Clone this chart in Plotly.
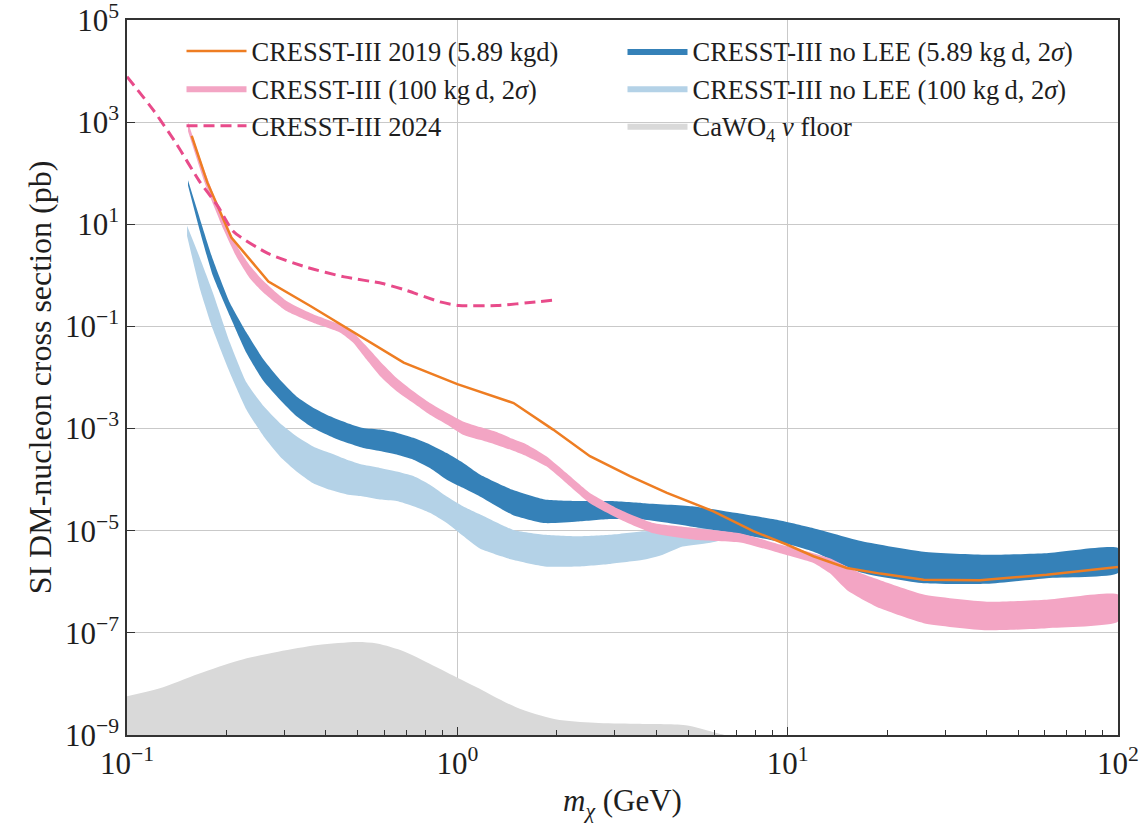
import numpy as np
import plotly.graph_objects as go

# ---- exclusion limits: dark-matter mass (GeV) vs log10 of SI cross section (pb) ----
cresst2019_mass = [0.157, 0.175, 0.207, 0.268, 0.359, 0.485, 0.688, 1.0, 1.48, 1.95,
                   2.52, 3.33, 4.31, 5.96, 7.87, 9.93, 11.97, 15.1, 19.05, 25.8,
                   38.2, 60.8, 100]
cresst2019_logxs = [2.73, 1.82, 0.74, -0.12, -0.60, -1.12, -1.71, -2.13, -2.50, -3.02,
                    -3.54, -3.93, -4.26, -4.62, -5.01, -5.27, -5.50, -5.73, -5.84, -5.96,
                    -5.97, -5.86, -5.71]

cresst2024_mass = [0.1, 0.120, 0.141, 0.165, 0.189, 0.210, 0.267, 0.349, 0.455, 0.594,
                   0.698, 0.887, 1.01, 1.32, 1.73, 2.0]
cresst2024_logxs = [3.89, 3.24, 2.58, 1.86, 1.34, 0.86, 0.43, 0.16, -0.03, -0.16,
                    -0.29, -0.52, -0.59, -0.59, -0.52, -0.48]

# ---- projected sensitivity bands (2 sigma): upper / lower edges ----
proj100_mass = [0.153, 0.171, 0.196, 0.215, 0.235, 0.259, 0.304, 0.366, 0.441, 0.484,
                0.531, 0.583, 0.655, 0.736, 0.826, 0.929, 1.04, 1.17, 1.29, 1.47,
                1.62, 1.86, 2.14, 2.52, 3.11, 3.92, 5.30, 7.18, 9.48, 11.97,
                13.4, 15.1, 16.9, 19.05, 25.8, 40.1, 60.8, 100]
proj100_log_hi = [3.0, 2.08, 1.10, 0.58, 0.20, -0.11, -0.50, -0.76, -0.96, -1.12,
                  -1.39, -1.68, -2.01, -2.27, -2.50, -2.69, -2.86, -2.97, -3.05, -3.20,
                  -3.31, -3.54, -3.87, -4.26, -4.59, -4.85, -4.95, -5.05, -5.27, -5.44,
                  -5.54, -5.70, -5.85, -5.97, -6.25, -6.39, -6.35, -6.25]
proj100_log_lo = [2.82, 1.85, 0.90, 0.35, -0.05, -0.34, -0.70, -0.93, -1.12, -1.32,
                  -1.65, -1.97, -2.27, -2.50, -2.73, -2.92, -3.12, -3.22, -3.30, -3.43,
                  -3.54, -3.74, -4.07, -4.46, -4.78, -5.05, -5.18, -5.23, -5.44, -5.63,
                  -5.83, -6.16, -6.35, -6.52, -6.81, -6.95, -6.91, -6.78]

nolee589_mass = [0.153, 0.166, 0.182, 0.205, 0.230, 0.259, 0.290, 0.326, 0.366, 0.412,
                 0.463, 0.519, 0.583, 0.655, 0.736, 0.826, 0.929, 1.04, 1.17, 1.47,
                 1.84, 2.31, 2.90, 3.65, 5.14, 6.93, 9.48, 11.97, 16.9, 25.8,
                 40.1, 60.8, 100]
nolee589_log_hi = [1.86, 1.12, 0.31, -0.54, -1.12, -1.65, -2.04, -2.37, -2.59, -2.76,
                   -2.89, -2.99, -3.02, -3.08, -3.18, -3.31, -3.48, -3.67, -3.90, -4.20,
                   -4.39, -4.42, -4.42, -4.46, -4.52, -4.65, -4.80, -4.95, -5.21, -5.41,
                   -5.47, -5.44, -5.34]
nolee589_log_lo = [1.76, 0.88, -0.01, -0.80, -1.52, -2.07, -2.43, -2.76, -2.99, -3.15,
                   -3.28, -3.38, -3.44, -3.51, -3.61, -3.77, -4.00, -4.16, -4.33, -4.69,
                   -4.85, -4.82, -4.77, -4.78, -4.92, -5.05, -5.22, -5.41, -5.83, -6.03,
                   -6.04, -5.93, -5.83]

nolee100_mass = [0.152, 0.166, 0.182, 0.205, 0.230, 0.259, 0.290, 0.326, 0.366, 0.412,
                 0.463, 0.519, 0.583, 0.655, 0.736, 0.826, 0.929, 1.04, 1.17, 1.47,
                 1.84, 2.31, 2.90, 3.65, 4.19, 4.81, 5.77, 6.5]
nolee100_log_hi = [0.97, 0.35, -0.34, -1.32, -2.10, -2.56, -2.89, -3.15, -3.35, -3.48,
                   -3.61, -3.71, -3.77, -3.84, -3.93, -4.10, -4.33, -4.52, -4.68, -4.98,
                   -5.08, -5.11, -5.08, -5.01, -4.98, -4.95, -4.95, -5.00]
nolee100_log_lo = [0.77, -0.25, -1.06, -1.91, -2.63, -3.15, -3.54, -3.84, -4.07, -4.20,
                   -4.29, -4.33, -4.39, -4.42, -4.52, -4.65, -4.85, -5.10, -5.35, -5.57,
                   -5.70, -5.70, -5.65, -5.57, -5.47, -5.31, -5.24, -5.15]

# ---- neutrino floor for CaWO4 ----
floor_mass = [0.1, 0.125, 0.165, 0.218, 0.287, 0.378, 0.498, 0.571, 0.693, 0.863,
              1.0, 1.14, 1.5, 1.98, 2.6, 3.43, 4.91, 5.94, 6.46]
floor_logxs = [-8.24, -8.09, -7.80, -7.54, -7.37, -7.24, -7.18, -7.21, -7.37, -7.67,
               -7.88, -8.06, -8.45, -8.69, -8.76, -8.78, -8.81, -8.94, -9.0]

# ---- axes ----
X_DECADES = [-1, 2]
Y_DECADES = [-9, 5]
y_tick_exp = list(range(Y_DECADES[0], Y_DECADES[1] + 1, 2))

FONT = "Liberation Serif"
C_ORANGE = "#ee7d22"
C_PINK = "#f3a5c4"
C_DASH = "#e84b8a"
C_DARK = "#3581b8"
C_LIGHT = "#b4d2e7"
C_FLOOR = "#d9d9d9"
C_TEXT = "#1e1e1e"


def pow10(v):
    return list(10.0 ** np.asarray(v, dtype=float))


def sup(e):
    return "10<sup>" + str(e).replace("-", "\u2212") + "</sup>"


def band(mass, hi, lo, color, name, legend, rank):
    x = list(mass) + list(mass)[::-1]
    y = pow10(hi) + pow10(lo)[::-1]
    return go.Scatter(x=x, y=y, mode="lines", fill="toself", fillcolor=color,
                      line=dict(width=0, color=color, shape="spline", smoothing=0.5),
                      name=name, legend=legend, legendrank=rank, hoverinfo="skip")


fig = go.Figure()

# neutrino floor, filled down to the bottom of the axis
y_floor_base = 10.0 ** Y_DECADES[0]
fig.add_trace(go.Scatter(
    x=list(floor_mass) + list(floor_mass)[::-1],
    y=pow10(floor_logxs) + [y_floor_base] * len(floor_mass),
    mode="lines", fill="toself", fillcolor=C_FLOOR,
    line=dict(width=0, color=C_FLOOR, shape="spline", smoothing=0.8),
    name="CaWO<sub>4</sub> <i>\u03bd</i> floor", legend="legend2", legendrank=3,
    hoverinfo="skip"))

fig.add_trace(band(nolee100_mass, nolee100_log_hi, nolee100_log_lo, C_LIGHT,
                   "CRESST-III no LEE (100 kg\u2009d, 2<i>\u03c3</i>)", "legend2", 2))
fig.add_trace(band(nolee589_mass, nolee589_log_hi, nolee589_log_lo, C_DARK,
                   "CRESST-III no LEE (5.89 kg\u2009d, 2<i>\u03c3</i>)", "legend2", 1))
fig.add_trace(band(proj100_mass, proj100_log_hi, proj100_log_lo, C_PINK,
                   "CRESST-III (100 kg\u2009d, 2<i>\u03c3</i>)", "legend", 2))

fig.add_trace(go.Scatter(x=cresst2019_mass, y=pow10(cresst2019_logxs), mode="lines",
                         line=dict(color=C_ORANGE, width=2.5),
                         name="CRESST-III 2019 (5.89 kgd)", legend="legend", legendrank=1))
fig.add_trace(go.Scatter(x=cresst2024_mass, y=pow10(cresst2024_logxs), mode="lines",
                         line=dict(color=C_DASH, width=3, dash="11px,6px", shape="spline",
                                   smoothing=0.6),
                         name="CRESST-III 2024", legend="legend", legendrank=3))

minor_x = [k * 10.0 ** d for d in range(X_DECADES[0], X_DECADES[1]) for k in range(2, 10)]

axis_common = dict(
    type="log", showline=True, linecolor="#333333", linewidth=1.6, mirror=True,
    showgrid=True, gridcolor="#c9c9c9", gridwidth=1.2, zeroline=False,
    ticks="inside", ticklen=8, tickwidth=1.4, tickcolor="#333333",
    tickfont=dict(family=FONT, size=31, color=C_TEXT),
    ticklabeloverflow="allow",
)

fig.update_xaxes(
    **axis_common, range=X_DECADES,
    tickvals=[10.0 ** e for e in range(X_DECADES[0], X_DECADES[1] + 1)],
    ticktext=[sup(e) for e in range(X_DECADES[0], X_DECADES[1] + 1)],
    minor=dict(tickmode="array", tickvals=minor_x, ticks="inside", ticklen=5,
               tickwidth=1.2, tickcolor="#333333", showgrid=False),
    title=dict(text="<i>m</i><sub><i>\u03c7</i></sub> (GeV)", standoff=10,
               font=dict(family=FONT, size=31, color=C_TEXT)),
)
fig.update_yaxes(
    **axis_common, range=Y_DECADES,
    tickvals=[10.0 ** e for e in y_tick_exp],
    ticktext=[sup(e) for e in y_tick_exp],
    title=dict(text="SI DM-nucleon cross section (pb)", standoff=4,
               font=dict(family=FONT, size=32, color=C_TEXT)),
)

legend_common = dict(
    yanchor="top", xanchor="left", y=0.99, bgcolor="rgba(0,0,0,0)",
    font=dict(family=FONT, size=26.5, color=C_TEXT),
    itemwidth=60, tracegroupgap=0, traceorder="normal",
)

fig.update_layout(
    width=1148, height=823,
    margin=dict(l=127, r=30, t=20, b=88, autoexpand=False),
    paper_bgcolor="white", plot_bgcolor="white",
    showlegend=True,
    legend=dict(**legend_common, x=0.055),
    legend2=dict(**legend_common, x=0.50),
    font=dict(family=FONT, color=C_TEXT),
)

fig.write_html("out.html")
